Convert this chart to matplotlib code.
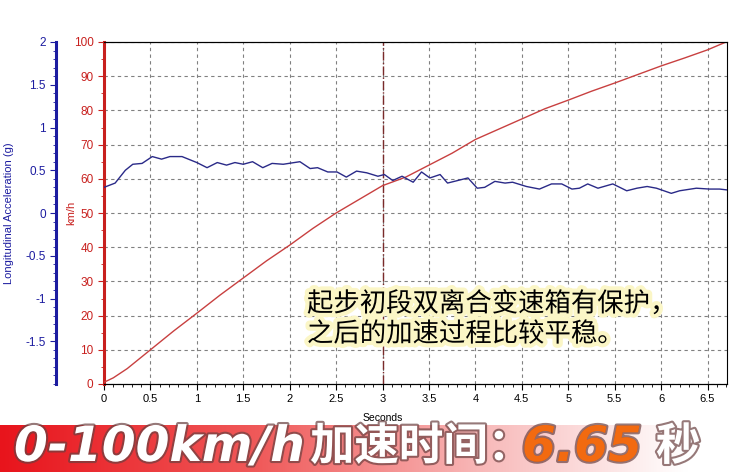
#!/usr/bin/env python3
import numpy as np
import matplotlib
matplotlib.use('Agg')
import matplotlib.pyplot as plt
import matplotlib.patheffects as pe
from matplotlib.ticker import MultipleLocator, FuncFormatter
from matplotlib.colors import LinearSegmentedColormap

plt.rcParams['font.family'] = ['Liberation Sans', 'Noto Sans CJK SC', 'DejaVu Sans']

# speed curve (km/h)
t_speed = [0, 0.1, 0.25, 0.5, 0.75, 1.0, 1.25, 1.5, 1.75, 2.0, 2.25, 2.5, 2.75,
           3.0, 3.25, 3.5, 3.75, 4.0, 4.25, 4.5, 4.75, 5.0, 5.25, 5.5, 5.75,
           6.0, 6.25, 6.5, 6.7]
speed = [0.5, 1.8, 4.5, 10, 15.5, 20.7, 26, 31, 36, 40.6, 45.5, 50, 54,
         58, 60.5, 64, 67.5, 71.5, 74.5, 77.5, 80.5, 83, 85.6, 88, 90.5,
         93, 95.3, 97.7, 100]

# longitudinal acceleration (g)
t_acc = [0.0, 0.12, 0.23, 0.31, 0.41, 0.52, 0.62, 0.71, 0.84, 1.0, 1.11, 1.22,
         1.32, 1.41, 1.50, 1.60, 1.71, 1.81, 1.93, 2.11, 2.22, 2.30, 2.41,
         2.51, 2.61, 2.72, 2.83, 2.95, 3.02, 3.11, 3.21, 3.33, 3.42, 3.51,
         3.62, 3.70, 3.81, 3.92, 4.02, 4.10, 4.21, 4.32, 4.40, 4.55, 4.69,
         4.82, 4.93, 5.04, 5.12, 5.21, 5.32, 5.48, 5.63, 5.74, 5.85, 5.95,
         6.11, 6.20, 6.38, 6.52, 6.63, 6.71]
acc = [0.30, 0.35, 0.50, 0.57, 0.58, 0.66, 0.63, 0.66, 0.66, 0.59, 0.53, 0.59,
       0.56, 0.59, 0.57, 0.60, 0.53, 0.58, 0.57, 0.60, 0.52, 0.53, 0.48,
       0.48, 0.42, 0.49, 0.47, 0.43, 0.45, 0.38, 0.43, 0.36, 0.48, 0.41,
       0.45, 0.35, 0.38, 0.41, 0.29, 0.30, 0.37, 0.35, 0.36, 0.31, 0.28,
       0.34, 0.34, 0.28, 0.29, 0.34, 0.29, 0.34, 0.26, 0.29, 0.31, 0.29,
       0.23, 0.26, 0.29, 0.28, 0.28, 0.27]

acc_ticks = [-1.5, -1, -0.5, 0, 0.5, 1, 1.5, 2]

note = '起步初段双离合变速箱有保护，\n之后的加速过程比较平稳。'

RED = '#c8201e'
BLUE = '#1c1ca0'
W, H = 739, 472

fig = plt.figure(figsize=(W / 100, H / 100), dpi=100)
ax = fig.add_axes([104 / W, 88 / H, 623 / W, 342 / H])

ax.plot(t_speed, speed, color='#c84040', lw=1, zorder=3)
ax.set_xlim(0, 6.71)
ax.set_ylim(0, 100)
ax.xaxis.set_major_locator(MultipleLocator(0.5))
ax.xaxis.set_minor_locator(MultipleLocator(0.1))
ax.yaxis.set_major_locator(MultipleLocator(10))
ax.yaxis.set_minor_locator(MultipleLocator(5))
ax.xaxis.set_major_formatter(FuncFormatter(lambda v, p: '%g' % v))
ax.grid(which='major', color='#808080', ls=(0, (3, 3)), lw=0.8)
ax.axvline(3, color='#7a2a2a', ls='-.', lw=1, zorder=2)

for s in ['top', 'right', 'bottom']:
    ax.spines[s].set_color('black')
ax.spines['left'].set_color(RED)
ax.spines['left'].set_linewidth(2.2)
ax.tick_params(axis='x', labelsize=8, length=4, width=0.8, colors='black')
ax.tick_params(axis='x', which='minor', length=2)
ax.tick_params(axis='y', labelsize=8.5, length=4, width=0.8, colors=RED)
ax.tick_params(axis='y', which='minor', length=2, colors=RED)

ax.set_xlabel('Seconds', fontsize=7.5)
ax.xaxis.set_label_coords(0.448, -0.085)
ax.set_ylabel('km/h', fontsize=8, color=RED)
ax.yaxis.set_label_coords(-0.045, 0.5)

ax2 = ax.twinx()
ax2.plot(t_acc, acc, color='#2a2a88', lw=1, zorder=3)
ax2.set_ylim(-2, 2)
ax2.yaxis.tick_left()
ax2.yaxis.set_label_position('left')
ax2.spines['left'].set_position(('outward', 34.5))
ax2.spines['left'].set_color(BLUE)
ax2.spines['left'].set_linewidth(2.2)
ax2.spines['left'].set_visible(True)
ax2.spines['right'].set_visible(False)
ax2.set_yticks(acc_ticks)
ax2.yaxis.set_major_formatter(FuncFormatter(lambda v, p: '%g' % v))
ax2.yaxis.set_minor_locator(MultipleLocator(0.1))
ax2.tick_params(axis='y', labelsize=8.5, length=4, width=0.8, colors=BLUE)
ax2.tick_params(axis='y', which='minor', length=2, colors=BLUE)
ax2.set_ylabel('Longitudinal Acceleration (g)', fontsize=8, color=BLUE)
ax2.yaxis.set_label_coords(-0.145, 0.5)

ax.text((307 - 104) / 623, (384 - 319) / 342, note, transform=ax.transAxes,
        ha='left', va='center', fontsize=19, linespacing=1.15,
        family=['Noto Sans CJK SC', 'DejaVu Sans'], color='black', zorder=5,
        path_effects=[pe.withStroke(linewidth=6, foreground='#fbf6c6')])

# bottom banner
bax = fig.add_axes([0, 0, 1, 47 / H])
cmap = LinearSegmentedColormap.from_list(
    'banner', [(0, '#e8141c'), (0.35, '#f05a5a'), (0.65, '#f8b8b8'),
               (0.93, '#ffffff'), (1, '#ffffff')])
bax.imshow(np.linspace(0, 1, 256)[None, :], aspect='auto', cmap=cmap,
           extent=[0, 1, 0, 1])
bax.set_axis_off()

shadow = [pe.Stroke(linewidth=3, foreground='#6a4040', alpha=0.7), pe.Normal()]
yb = 25 / H
fig.text(14 / W, yb, '0-100km/h', fontsize=35, weight='bold', style='italic',
         family='DejaVu Sans', color='white', va='center', path_effects=shadow)
fig.text(310 / W, yb, '加速时间：', fontsize=32, weight='heavy',
         family=['Noto Sans CJK SC'], color='white', va='center', path_effects=shadow)
fig.text(522 / W, yb, '6.65', fontsize=35, weight='bold', style='italic',
         family='DejaVu Sans', color='#f26a10', va='center', path_effects=shadow)
fig.text(656 / W, yb, '秒', fontsize=32, weight='heavy',
         family=['Noto Sans CJK SC'], color='white', va='center', path_effects=shadow)

fig.savefig('out.png', dpi=100)
